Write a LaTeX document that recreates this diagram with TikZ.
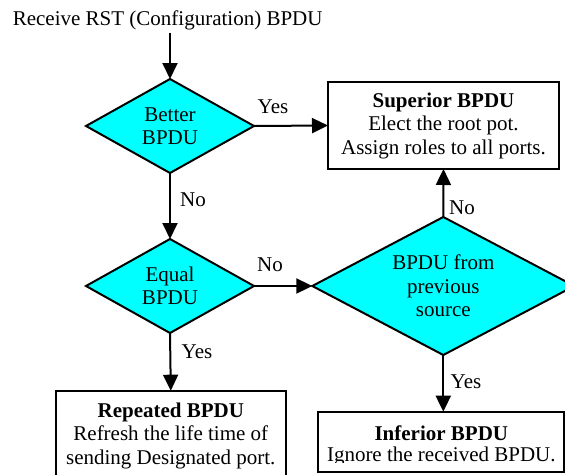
\documentclass[tikz,border=0pt]{standalone}
\usepackage{fontspec}
\setmainfont{Liberation Serif}
\usetikzlibrary{shapes.geometric,arrows.meta}
\definecolor{decfill}{RGB}{0,255,255}
\begin{document}
\begin{tikzpicture}[x=1pt,y=-1pt,
  every node/.style={font=\fontsize{21}{23.5}\selectfont, text=black},
  decision/.style={diamond, draw=black, line width=2pt, fill=decfill,
    inner sep=0pt, outer sep=0pt, align=center},
  smalldec/.style={decision, aspect=1.79, minimum width=168pt, minimum height=94pt},
  box/.style={rectangle, draw=black, line width=2pt, fill=white,
    inner sep=0pt, outer sep=0pt, align=center},
  conn/.style={line width=2pt, -{Triangle[length=16pt,width=15pt]}},
  lbl/.style={inner sep=0pt}]
\useasboundingbox (0,0) rectangle (565,474);
\clip (0,0) rectangle (565,474);

% start label
\node[anchor=base west, inner sep=0pt] (title) at (12.6,25) {Receive RST (Configuration) BPDU};

% decisions
\node[smalldec] (d1) at (170,126) {Better\\BPDU};
\node[smalldec] (d2) at (170,286) {Equal\\BPDU};
\node[decision, aspect=1.9, minimum width=262pt, minimum height=138pt] (d3) at (443.3,286)
  {BPDU from\\previous\\source};

% outcomes
\node[box, minimum width=231pt, minimum height=87pt] (sup) at (443.5,125.5)
  {\textbf{Superior BPDU}\\Elect the root pot.\\Assign roles to all ports.};
\node[box, minimum width=230pt, minimum height=90pt] (rep) at (170.8,435.7)
  {\textbf{Repeated BPDU}\\Refresh the life time of\\sending Designated port.};
\node[box, minimum width=246pt, minimum height=60pt] (inf) at (441.3,441.7) {};
\begin{scope}
  \clip (inf.north west) rectangle ([yshift=9pt]inf.south east);
  \node[inner sep=0pt, align=center, font=\fontsize{21}{21.7}\selectfont] (inftext) at (441.3,446)
    {\textbf{Inferior BPDU}\\Ignore the received BPDU.};
\end{scope}

% connectors
\coordinate (t0) at ([yshift=-3pt]title.south -| d1.north);
\draw[conn] (t0) -- (d1.north);
\draw[conn] (d1.east) -- (sup.west);
\draw[conn] (d1.south) -- (d2.north);
\draw[conn] (d2.east) -- (d3.west);
\draw[conn] (d2.south) -- (rep.north);
\draw[conn] (d3.north) -- (sup.south);
\draw[conn] (d3.south) -- (d3.south |- inf.north);

% branch labels
\node[lbl] (l1) at (273,107) {Yes};
\node[lbl] (l2) at (193,200) {No};
\node[lbl] (l3) at (270,265) {No};
\node[lbl] (l4) at (197,352) {Yes};
\node[lbl] (l5) at (462,208) {No};
\node[lbl] (l6) at (466,382) {Yes};
\end{tikzpicture}
\end{document}
